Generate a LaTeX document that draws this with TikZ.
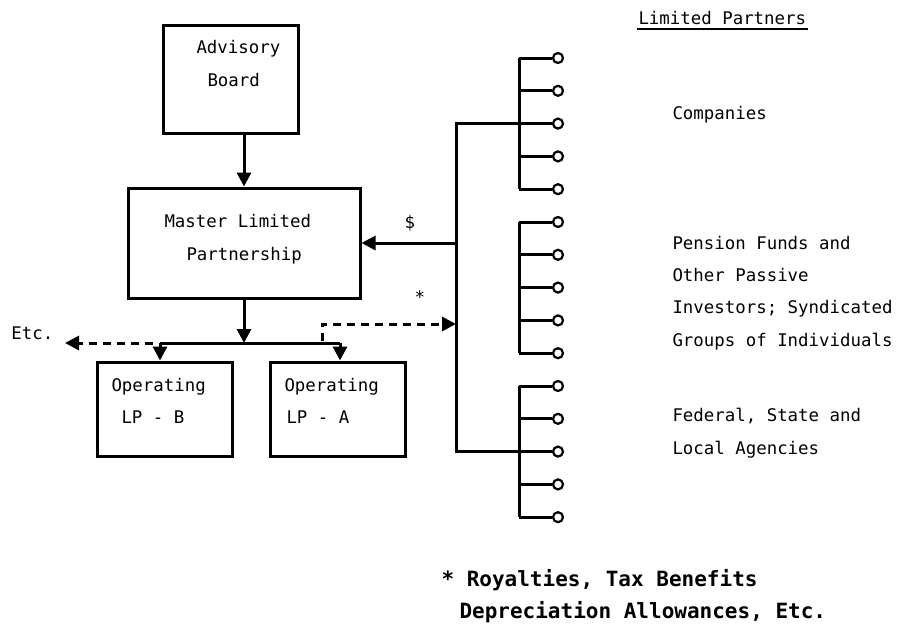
\documentclass[tikz,border=0pt]{standalone}
\usepackage{fontspec}
\setmonofont{DejaVu Sans Mono}
\usetikzlibrary{arrows.meta}
\begin{document}
\begin{tikzpicture}[x=1pt,y=-1pt, line width=3pt,
  box/.style={draw, line width=3pt, inner sep=0pt},
  txt/.style={font=\ttfamily\fontsize{17.4}{33}\selectfont, inner sep=0pt, anchor=base west},
  note/.style={font=\ttfamily\bfseries\fontsize{21}{32}\selectfont, inner sep=0pt, anchor=base west},
  tip/.style={-{Triangle[length=14pt,width=14pt]}},
  dsh/.style={dash pattern=on 8pt off 6pt},
  port/.style={circle, draw, line width=2.2pt, minimum size=10pt, inner sep=0pt}]
\useasboundingbox (0,0) rectangle (908,624);
% boxes
\node[box, minimum width=135pt, minimum height=108pt] (adv) at (230.5,79) {};
\node[box, minimum width=232pt, minimum height=110pt] (mlp) at (244,243) {};
\node[box, minimum width=135pt, minimum height=94pt] (opb) at (164.5,409) {};
\node[box, minimum width=135pt, minimum height=94pt] (opa) at (337.5,409) {};
% box texts
\node[txt] (t1) at (195,53) {Advisory};
\node[txt] (t2) at (206,86) {Board};
\node[txt] (t3) at (163,227) {Master Limited};
\node[txt] (t4) at (185,260) {Partnership};
\node[txt] (t5) at (110,391) {Operating};
\node[txt] (t6) at (120,423) {LP - B};
\node[txt] (t7) at (283,391) {Operating};
\node[txt] (t8) at (285,423) {LP - A};
\node[txt] (etc) at (10,339) {Etc.};
\node[txt] (dol) at (403,228) {\$};
\node[txt] (star) at (413,303) {*};
% arrows left part
\draw[tip] (adv.south -| mlp.north) -- (mlp.north);
\coordinate (j) at (244,343);
\coordinate (bl) at (160,343);
\coordinate (br) at (340,343);
\draw[tip] (mlp.south) -- (j);
\draw (bl) -- (br);
\draw[tip] (bl) -- (bl |- opb.north);
\draw[tip] (br) -- (br |- opa.north);
\coordinate (e0) at (153,343);
\coordinate (e1) at (65,343);
\draw[tip,dsh] (e0) -- (e1);
% main line and groups
\foreach \i in {0,...,14}{
  \pgfmathsetmacro{\yy}{58+\i*32.8}
  \coordinate (g\i) at (519,\yy);
  \node[port] (p\i) at (558,\yy) {};
  \draw (g\i) -- (p\i.west);
}
\draw (g0) -- (g4);
\draw (g5) -- (g9);
\draw (g10) -- (g14);
\coordinate (mt) at (456,0 |- g2);
\coordinate (mb) at (456,0 |- g12);
\draw (g2) -- (mt) -- (mb) -- (g12);
\coordinate (dl) at (456,243);
\draw[tip] (dl) -- (dl -| mlp.east);
\coordinate (s0) at (322,341);
\coordinate (s1) at (322,324);
\draw[dsh,tip] (s0) -- (s1) -- (s1 -| mt);
% right labels
\node[txt] (lp) at (637,24) {Limited Partners};
\draw[line width=1.8pt] (lp.base west) ++(0,5) -- ([yshift=-5pt]lp.base east);
\node[txt] (c1) at (671,119) {Companies};
\node[txt] (c2) at (671,249) {Pension Funds and};
\node[txt] (c3) at (671,281) {Other Passive};
\node[txt] (c4) at (671,313) {Investors; Syndicated};
\node[txt] (c5) at (671,346) {Groups of Individuals};
\node[txt] (c6) at (671,421) {Federal, State and};
\node[txt] (c7) at (671,454) {Local Agencies};
% footnote
\node[note] (n1) at (440,586) {* Royalties, Tax Benefits};
\node[note] (n2) at (458,618) {Depreciation Allowances, Etc.};
\end{tikzpicture}
\end{document}
